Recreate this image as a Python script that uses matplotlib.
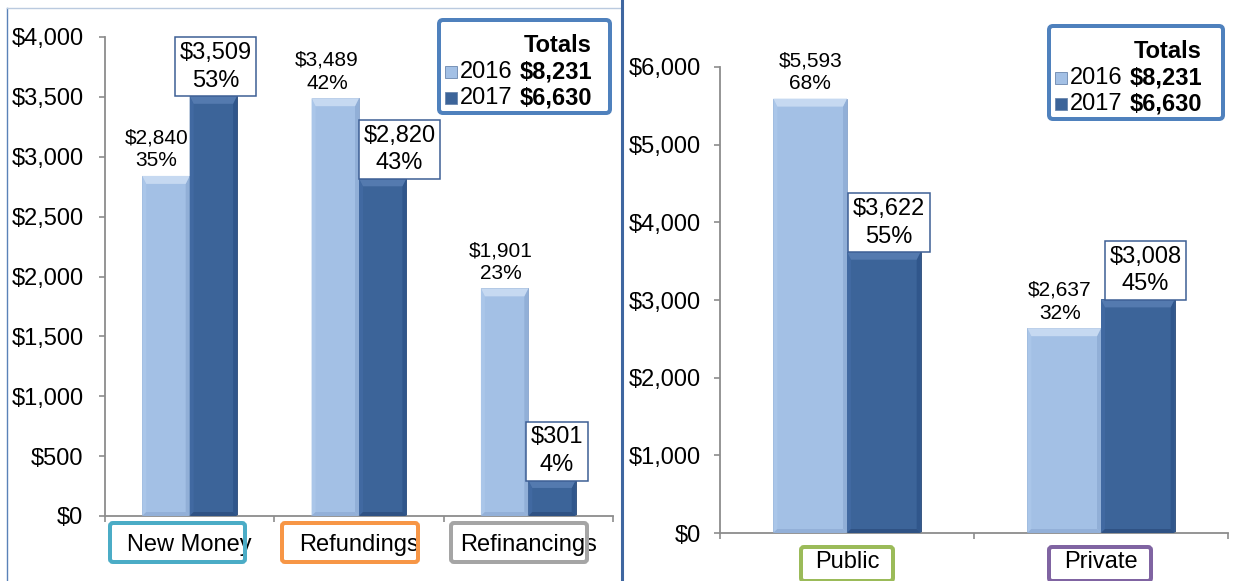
import matplotlib
matplotlib.use("Agg")
import matplotlib.pyplot as plt
from matplotlib.patches import FancyBboxPatch, Polygon, Rectangle
from matplotlib.transforms import IdentityTransform
from matplotlib.lines import Line2D
import numpy as np

plt.rcParams['font.family'] = ['Liberation Sans', 'DejaVu Sans']

# ---------------- data ----------------
left_categories = ["New Money", "Refundings", "Refinancings"]
left_2016 = [2840, 3489, 1901]
left_2016_pct = [35, 42, 23]
left_2017 = [3509, 2820, 301]
left_2017_pct = [53, 43, 4]

right_categories = ["Public", "Private"]
right_2016 = [5593, 2637]
right_2016_pct = [68, 32]
right_2017 = [3622, 3008]
right_2017_pct = [55, 45]

years = ["2016", "2017"]
totals = [8231, 6630]
left_yticks = [0, 500, 1000, 1500, 2000, 2500, 3000, 3500, 4000]
right_yticks = [0, 1000, 2000, 3000, 4000, 5000, 6000]

# ---------------- style ----------------
W, H = 1236, 581
C16, C17 = "#A3C0E5", "#3C6499"
BEV16 = dict(top="#C6D9F1", left="#AAC6E9", right="#91AFD7", bottom="#93B0D8")
BEV17 = dict(top="#547AAF", left="#4169A1", right="#30568B", bottom="#2F5284")
GRAY = "#8C8C8C"
LEG_BLUE = "#4F81BD"
FS = 17

fig = plt.figure(figsize=(W / 100, H / 100), dpi=100)


def axes_rect(x0, x1, ytop, ybot):
    return [x0 / W, (H - ybot) / H, (x1 - x0) / W, (ybot - ytop) / H]


axL = fig.add_axes(axes_rect(105, 613, 37, 516))
axR = fig.add_axes(axes_rect(720, 1228, 67, 533))


def bevel(ax, patch, cols, bt=8, bs=4):
    x, w, h = patch.get_x(), patch.get_width(), patch.get_height()
    x0, y0 = ax.transData.transform((x, 0))
    x1, y1 = ax.transData.transform((x + w, h))
    t = min(bt, (y1 - y0) / 2.0)
    s = min(bs, (x1 - x0) / 2.0)
    polys = {
        "left": [(x0, y0), (x0, y1), (x0 + s, y1 - t), (x0 + s, y0 + s)],
        "right": [(x1, y0), (x1, y1), (x1 - s, y1 - t), (x1 - s, y0 + s)],
        "bottom": [(x0, y0), (x1, y0), (x1 - s, y0 + s), (x0 + s, y0 + s)],
        "top": [(x0, y1), (x1, y1), (x1 - s, y1 - t), (x0 + s, y1 - t)],
    }
    for k, pts in polys.items():
        ax.add_patch(Polygon(pts, closed=True, facecolor=cols[k], edgecolor="none",
                             transform=IdentityTransform(), zorder=3, clip_on=False))


def draw_panel(ax, cats, v16, p16, v17, p17, ymax, yticks, width, dx16, dx17,
               box_specs, text_y, ypad):
    x = np.arange(len(cats))
    ax.set_xlim(-0.5, len(cats) - 0.5)
    ax.set_ylim(0, ymax)
    b16 = ax.bar(x - width / 2, v16, width, color=C16, edgecolor="#86A3CB",
                 linewidth=0.6, zorder=2)
    b17 = ax.bar(x + width / 2, v17, width, color=C17, edgecolor="#2A4A78",
                 linewidth=0.6, zorder=2)
    for p in b16:
        bevel(ax, p, BEV16)
    for p in b17:
        bevel(ax, p, BEV17)

    for i in range(len(cats)):
        ax.annotate(f"${v16[i]:,}\n{p16[i]}%", xy=(x[i] - width / 2, v16[i]),
                    xytext=(dx16[i], 4), textcoords="offset points", ha="center",
                    va="bottom", fontsize=15, linespacing=1.25, zorder=5)
        ax.annotate(f"${v17[i]:,}\n{p17[i]}%", xy=(x[i] + width / 2, v17[i]),
                    xytext=(dx17[i], 3), textcoords="offset points", ha="center",
                    va="bottom", fontsize=FS, linespacing=1.32, zorder=6,
                    bbox=dict(boxstyle="square,pad=0.2", fc="white",
                              ec="#3D5F95", lw=1.1))

    # axes styling
    for s in ["top", "right"]:
        ax.spines[s].set_visible(False)
    for s in ["left", "bottom"]:
        ax.spines[s].set_color(GRAY)
        ax.spines[s].set_linewidth(1.3)
    ax.set_yticks(yticks)
    ax.set_yticklabels([f"${v:,}" for v in yticks], fontsize=FS)
    ax.tick_params(axis="y", direction="out", length=4.5, width=1.2,
                   color=GRAY, pad=ypad)
    ax.set_xticks(x)
    ax.set_xticklabels([])
    ax.tick_params(axis="x", which="major", length=0)
    ax.set_xticks(np.arange(len(cats) + 1) - 0.5, minor=True)
    ax.tick_params(axis="x", which="minor", direction="out", length=4.5,
                   width=1.2, color=GRAY)

    # category labels in colored boxes
    for i, (cat, (bx0, by0, bx1, by1, col)) in enumerate(zip(cats, box_specs)):
        cx = ax.transData.transform((x[i], 0))[0]
        lw_px = 4
        r0 = (bx0 + lw_px / 2, by1 - lw_px / 2)
        wbox = bx1 - bx0 - lw_px
        hbox = by1 - by0 - lw_px
        fig.add_artist(FancyBboxPatch((r0[0], H - r0[1]), wbox, hbox,
                                      boxstyle="round,pad=0,rounding_size=3",
                                      facecolor="white", edgecolor="none",
                                      transform=IdentityTransform(), zorder=1))
        fig.text(cx / W, (H - text_y) / H, cat, ha="center", va="center",
                 fontsize=FS, zorder=2)
        fig.add_artist(FancyBboxPatch((r0[0], H - r0[1]), wbox, hbox,
                                      boxstyle="round,pad=0,rounding_size=3",
                                      facecolor="none", edgecolor=col,
                                      linewidth=lw_px * 0.72,
                                      transform=IdentityTransform(), zorder=3))


draw_panel(axL, left_categories, left_2016, left_2016_pct, left_2017,
           left_2017_pct, 4000, left_yticks, 0.28, [-7, -6, -2.5], [1.5, 12, 3.5],
           [(108, 521, 247, 564, "#4BACC6"),
            (280, 521, 420, 564, "#F79646"),
            (449, 521, 589, 564, "#A5A5A5")], 545, 11)
draw_panel(axR, right_categories, right_2016, right_2016_pct, right_2017,
           right_2017_pct, 6000, right_yticks, 0.29, [0, -3], [3.5, 5.5],
           [(799, 545, 895, 583, "#9BBB59"),
            (1047, 545, 1153, 583, "#8064A2")], 562, 9.5)


# ---------------- custom "Totals" legends ----------------
def legend_box(x0, y0, w, h):
    lw_px = 4
    fig.add_artist(FancyBboxPatch((x0 + lw_px / 2, H - (y0 + h - lw_px / 2)),
                                  w - lw_px, h - lw_px,
                                  boxstyle="round,pad=0,rounding_size=4",
                                  facecolor="white", edgecolor=LEG_BLUE,
                                  linewidth=lw_px * 0.72,
                                  transform=IdentityTransform(), zorder=4))

    def t(px, py, s, **kw):
        fig.text(px / W, (H - py) / H, s, va="center", fontsize=FS, zorder=5, **kw)

    t(x0 + 155, y0 + 27, "Totals", ha="right", fontweight="bold")
    row_y = [y0 + 54, y0 + 80]
    for yr, tot, col, yy in zip(years, totals, [C16, C17], row_y):
        fig.add_artist(Rectangle((x0 + 8, H - yy - 6), 12, 12, facecolor=col,
                                 edgecolor="#6A86AE", linewidth=0.6,
                                 transform=IdentityTransform(), zorder=5))
        t(x0 + 23, yy, yr, ha="left")
        t(x0 + 155, yy, f"${tot:,}", ha="right", fontweight="bold")


legend_box(437, 18, 175, 97)
legend_box(1047, 24, 178, 97)

# ---------------- frame lines ----------------
fig.add_artist(Line2D([7, 7], [H - 8, 0], color="#5A82B8", lw=1.0,
                      transform=IdentityTransform(), zorder=6))
fig.add_artist(Line2D([7, 622], [H - 8, H - 8], color="#BACADF", lw=1.0,
                      transform=IdentityTransform(), zorder=6))
fig.add_artist(Line2D([622, 622], [H, 0], color="#3F66A0", lw=2.2,
                      transform=IdentityTransform(), zorder=6))

fig.savefig("out.png", dpi=100, facecolor="white")
